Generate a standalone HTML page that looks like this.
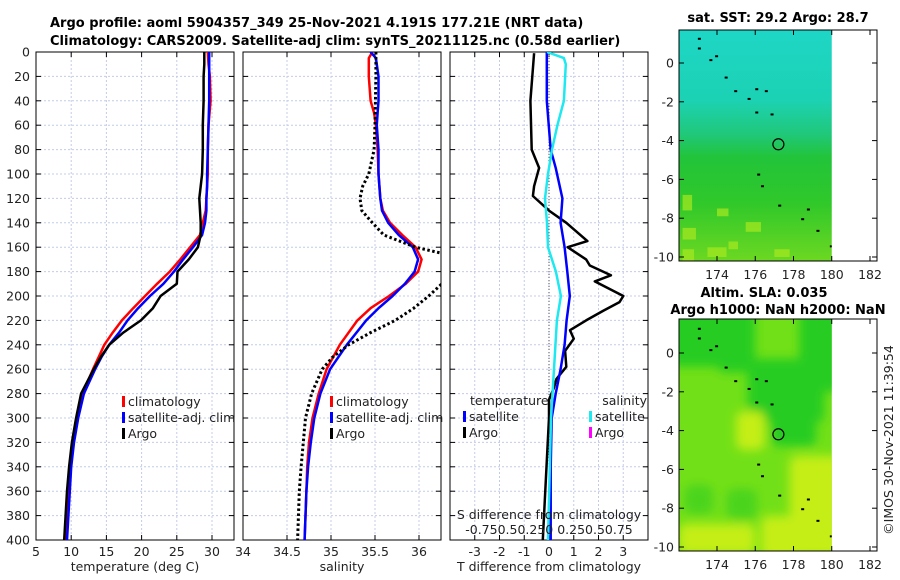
<!DOCTYPE html>
<html><head><meta charset="utf-8">
<style>
body{margin:0;background:#fff;width:900px;height:580px;overflow:hidden;font-family:"Liberation Sans","DejaVu Sans",sans-serif}
svg{display:block}
text{font-family:"DejaVu Sans","Liberation Sans",sans-serif;font-size:12.5px;fill:#222}
.b{font-weight:bold;fill:#000;font-size:13px}
</style></head><body>
<svg id="fig" width="900" height="580" viewBox="0 0 900 580">
<text class="b" x="50" y="27">Argo profile: aoml 5904357_349 25-Nov-2021 4.191S 177.21E (NRT data)</text>
<text class="b" x="50" y="45">Climatology: CARS2009. Satellite-adj clim: synTS_20211125.nc (0.58d earlier)</text>
<text class="b" x="778" y="22" text-anchor="middle">sat. SST: 29.2 Argo: 28.7</text>
<text class="b" x="764" y="297" text-anchor="middle">Altim. SLA: 0.035</text>
<text class="b" x="778" y="314" text-anchor="middle">Argo h1000: NaN h2000: NaN</text>
<text x="0" y="0" transform="translate(893,440) rotate(-90)" text-anchor="middle">©IMOS 30-Nov-2021 11:39:54</text>
<g id="plots"></g>
</svg>
<script>
// ---- data ----
const depths = [0,10,20,40,60,80,100,110,120,130,140,150,160,170,180,190,200,210,220,230,240,250,260,280,300,320,340,360,380,400];
const tempClim = [29.4,29.5,29.7,29.8,29.5,29.4,29.4,29.3,29.2,29.1,28.7,28.3,26.9,25.5,24.0,22.2,20.5,18.8,17.2,15.9,14.7,13.9,13.1,11.6,10.8,10.2,9.9,9.6,9.4,9.2];
const tempSat = [29.6,29.6,29.6,29.6,29.5,29.4,29.3,29.3,29.2,29.2,29.0,28.6,27.3,25.9,24.6,23.1,21.2,19.5,18.0,16.8,15.4,14.3,13.4,11.8,11.0,10.4,10.0,9.8,9.6,9.4];
const tempArgo = [28.9,28.9,28.8,28.8,28.7,28.7,28.6,28.4,28.2,28.3,28.4,28.4,28.0,26.7,25.1,25.0,22.7,21.6,19.9,17.4,15.4,14.2,13.2,11.4,10.7,10.1,9.7,9.4,9.2,9.0];
const salDepths = [0,5,20,40,50,60,80,100,120,130,140,150,160,170,180,190,200,210,220,240,260,280,300,320,340,360,400];
const salClim = [35.47,35.43,35.43,35.45,35.49,35.51,35.53,35.54,35.56,35.59,35.67,35.81,35.96,36.03,35.99,35.85,35.66,35.45,35.30,35.10,34.95,34.86,34.79,34.75,34.73,34.72,34.70];
const salSat = [35.45,35.51,35.54,35.54,35.53,35.52,35.54,35.54,35.56,35.58,35.65,35.77,35.93,35.99,35.95,35.84,35.70,35.54,35.40,35.18,34.99,34.88,34.81,34.77,34.74,34.72,34.70];
const argoSalDepths = [0,20,60,80,100,110,120,130,140,150,160,165,175,185,190,200,210,220,230,240,250,260,280,300,340,360,400];
const salArgo = [35.51,35.51,35.50,35.49,35.43,35.36,35.33,35.35,35.47,35.60,35.96,36.26,36.6,36.5,36.26,36.11,35.94,35.73,35.45,35.20,35.02,34.90,34.78,34.71,34.66,34.64,34.62];
const diffDepths = [1,40,80,95,110,118,130,140,155,160,170,175,183,188,200,205,212,220,228,235,245,258,268,275,285,300,340,400];
const tDiffArgo = [-0.6,-0.75,-0.7,-0.4,-0.6,-0.65,0.0,0.7,1.55,0.75,1.5,1.65,2.5,1.85,3.0,2.85,2.2,1.5,0.85,1.0,0.65,0.7,0.3,0.2,0.0,0.0,-0.1,-0.25];
const satDiffDepths = [0,40,80,95,120,140,160,180,200,220,240,260,280,300,340,400];
const tDiffSat = [-0.09,-0.09,0.07,0.27,0.54,0.47,0.63,0.74,0.84,0.71,0.63,0.47,0.27,0.11,0.07,0.07];
const sDiffDepths = [0,5,10,40,60,80,100,120,140,160,180,200,220,260,300,400];
const sDiffSat = [-0.02,0.15,0.17,0.15,0.085,0.03,-0.01,-0.04,-0.02,-0.01,0.07,0.12,0.08,0.05,0.02,-0.01];
const depthTicks = [0,20,40,60,80,100,120,140,160,180,200,220,240,260,280,300,320,340,360,380,400];
const tTicks = [5,10,15,20,25,30];
const sTicks = [34,34.5,35,35.5,36];
const dTicks = [-3,-2,-1,0,1,2,3];
const latTicks = [0,-2,-4,-6,-8,-10];
const lonTicks = [174,176,178,180,182];

// ---- helpers ----
const NS='http://www.w3.org/2000/svg';
const root=document.getElementById('plots');
function mk(tag,attrs,parent){const e=document.createElementNS(NS,tag);for(const k in attrs)e.setAttribute(k,attrs[k]);(parent||root).appendChild(e);return e;}
function lin(d0,d1,r0,r1){return v=>r0+(v-d0)*(r1-r0)/(d1-d0);}
const Y0=52,Y1=540;
const yD=lin(0,400,Y0,Y1);

function panel(name,x0,x1,xs,ticks,fmt){
  const g=mk('g',{});
  
  
  ticks.forEach(t=>{const x=xs(t);mk('line',{x1:x,x2:x,y1:Y0,y2:Y1,stroke:'#c4cbe8','stroke-width':1,'stroke-dasharray':'2,2'},g);});
  depthTicks.forEach(d=>{const y=yD(d);mk('line',{x1:x0,x2:x1,y1:y,y2:y,stroke:'#c4cbe8','stroke-width':1,'stroke-dasharray':'2,2'},g);
    mk('line',{x1:x0,x2:x0+5,y1:y,y2:y,stroke:'#000'},g);mk('line',{x1:x1-5,x2:x1,y1:y,y2:y,stroke:'#000'},g);});
  ticks.forEach(t=>{const x=xs(t);mk('line',{x1:x,x2:x,y1:Y1,y2:Y1-5,stroke:'#000'},g);mk('line',{x1:x,x2:x,y1:Y0,y2:Y0+5,stroke:'#000'},g);
    if(fmt){const tx=mk('text',{x:x,y:Y1+16,'text-anchor':'middle'},g);tx.textContent=fmt(t);}});
  mk('rect',{x:x0,y:Y0,width:x1-x0,height:Y1-Y0,fill:'none',stroke:'#000','stroke-width':1},g);
  return g;
}
function curve(name,g,xs,vals,ds,color,w,dash){
  const pts=vals.map((v,i)=>xs(v).toFixed(1)+','+yD(ds[i]).toFixed(1)).join(' ');
  const p=mk('polyline',{points:pts,fill:'none',stroke:color,'stroke-width':w,'stroke-linejoin':'round'},g);
  if(dash)p.setAttribute('stroke-dasharray',dash);
  
  
  return p;
}
function legend(g,x,y,items){
  items.forEach((it,i)=>{const yy=y+i*16;
    mk('rect',{x:x,y:yy-10,width:3,height:11,fill:it[1]},g);
    const t=mk('text',{x:x+6,y:yy},g);t.textContent=it[0];
    
    });
}

const defs=mk('defs',{});
[['c1',36,234],['c2',243,441],['c3',450,648]].forEach(c=>{const cp=mk('clipPath',{id:c[0]},defs);mk('rect',{x:c[1],y:Y0,width:c[2]-c[1],height:Y1-Y0},cp);});
const blur=mk('filter',{id:'blur',x:'-20%',y:'-20%',width:'140%',height:'140%'},defs);
mk('feGaussianBlur',{stdDeviation:5},blur);

depthTicks.forEach(d=>{const t=mk('text',{x:30,y:yD(d)+4.5,'text-anchor':'end'});t.textContent=d;
  
  });

// panel 1 temperature
const xT=lin(5,30,36,212);
const g1=panel('temperature-panel',36,234,xT,tTicks,v=>v);
const c1=mk('g',{'clip-path':'url(#c1)'},g1);
curve('temp-climatology-line',c1,xT,tempClim,depths,'#f00',2.5);
curve('temp-satellite-line',c1,xT,tempSat,depths,'#00f',2.5);
curve('temp-argo-line',c1,xT,tempArgo,depths,'#000',2.5);
legend(g1,122,406,[['climatology','#f00'],['satellite-adj. clim','#00f'],['Argo','#000']]);
const xl1=mk('text',{x:135,y:571,'text-anchor':'middle'});xl1.textContent='temperature (deg C)';



// panel 2 salinity
const xS=lin(34,36,243,419);
const g2=panel('salinity-panel',243,441,xS,sTicks,v=>v);
const c2=mk('g',{'clip-path':'url(#c2)'},g2);
curve('sal-climatology-line',c2,xS,salClim,salDepths,'#f00',2.5);
curve('sal-satellite-line',c2,xS,salSat,salDepths,'#00f',2.5);
curve('sal-argo-line',c2,xS,salArgo,argoSalDepths,'#000',3,'2.5,2.5');
legend(g2,330,406,[['climatology','#f00'],['satellite-adj. clim','#00f'],['Argo','#000']]);
const xl2=mk('text',{x:342,y:571,'text-anchor':'middle'});xl2.textContent='salinity';



// panel 3 differences
const xDT=lin(-4,4,450,648);
const xDS=lin(-1,1,450,648);
const g3=panel('difference-panel',450,648,xDT,dTicks,v=>v);
mk('line',{x1:xDT(0),x2:xDT(0),y1:Y0,y2:Y1,stroke:'#555','stroke-width':1,'stroke-dasharray':'1,2'},g3);
const c3=mk('g',{'clip-path':'url(#c3)'},g3);
curve('t-diff-argo-line',c3,xDT,tDiffArgo,diffDepths,'#000',2.5);
curve('t-diff-satellite-line',c3,xDT,tDiffSat,satDiffDepths,'#00f',2.5);
curve('s-diff-satellite-line',c3,xDS,sDiffSat,sDiffDepths,'#1ee8f0',2.5);
let t=mk('text',{x:470,y:405},g3);t.textContent='temperature';
t=mk('text',{x:647,y:405,'text-anchor':'end'},g3);t.textContent='salinity';
legend(g3,463,421,[['satellite','#00f'],['Argo','#000']]);
legend(g3,589,421,[['satellite','#1ee8f0'],['Argo','#f0f']]);
t=mk('text',{x:549,y:519,'text-anchor':'middle'},g3);t.textContent='S difference from climatology';

t=mk('text',{x:549,y:534,'text-anchor':'middle'},g3);t.textContent='-0.750.50.250 0.250.50.75';

const xl3=mk('text',{x:549,y:571,'text-anchor':'middle'});xl3.textContent='T difference from climatology';



// maps
function map(name,top,bot,lat0px,kind){
  const g=mk('g',{});
  
  
  const yL=lin(0,-10,lat0px,lat0px+194);
  const xL=lin(174,182,717,870);
  const cid='clip'+kind;
  const cp=mk('clipPath',{id:cid},defs);
  mk('rect',{x:679,y:top,width:xL(180)-679,height:bot-top},cp);
  const inner=mk('g',{'clip-path':'url(#'+cid+')'},g);
  if(kind==='sst'){
    const lg=mk('linearGradient',{id:'gsst',x1:0,y1:0,x2:0,y2:1},defs);
    [[0,'#1ed6c6'],[0.3,'#1cd2b4'],[0.45,'#20c87a'],[0.55,'#22c43a'],[0.75,'#30c82a'],[1,'#6cd822']].forEach(s=>mk('stop',{offset:s[0],'stop-color':s[1]},lg));
    mk('rect',{x:679,y:top,width:200,height:bot-top,fill:'url(#gsst)'},inner);
    [[172.2,-8.5,0.7,0.6],[173.5,-9.5,1,0.5],[175.5,-8.2,0.8,0.5],[172.2,-6.8,0.5,0.8],[174,-7.5,0.6,0.4],[177,-9.6,0.8,0.4],[172.2,-9.6,0.6,0.6],[174.6,-9.2,0.5,0.4]].forEach(b=>
      mk('rect',{x:xL(b[0]),y:yL(b[1]),width:b[2]*19.1,height:b[3]*19.4,fill:'#a8e820',opacity:0.7},inner));
  } else {
    mk('rect',{x:679,y:top,width:200,height:bot-top,fill:'#72e018'},inner);
    const bl=mk('g',{filter:'url(#blur)'},inner);
    [[171.5,2.5,4.5,3.2],[174,0.2,2,1.2],[175.6,-0.3,4,3.3],[176.8,-3.5,2.4,1.3],[178.3,2.5,2.2,4.5]].forEach(b=>
      mk('rect',{x:xL(b[0]),y:yL(b[1]),width:b[2]*19.1,height:b[3]*19.4,rx:8,fill:'#28cc22'},bl));
    [[172.3,-6.8,1.5,1.5],[174.5,-7,1.6,1.6]].forEach(b=>
      mk('rect',{x:xL(b[0]),y:yL(b[1]),width:b[2]*19.1,height:b[3]*19.4,rx:8,fill:'#4cd41c'},bl));
    [[177.8,-5.3,3,5.2],[176.3,-8.4,2.2,2.2],[172,-8.8,4,1.6],[175,-3,1.5,2]].forEach(b=>
      mk('rect',{x:xL(b[0]),y:yL(b[1]),width:b[2]*19.1,height:b[3]*19.4,rx:8,fill:'#c4ee12'},bl));
  }
  [[173,1.3],[173,0.8],[173.6,0.2],[173.9,0.4],[174.4,-0.7],[174.9,-1.4],[175.6,-1.8],[176,-1.3],[176.5,-1.4],[176.8,-2.6],[176,-2.5],[177.2,-7.3],[178.4,-8],[178.7,-7.5],[179.2,-8.6],[179.9,-9.4],[176.1,-5.7],[176.3,-6.3]].forEach(p=>
    mk('rect',{x:xL(p[0]),y:yL(p[1]),width:3,height:2,fill:'#000'},inner));
  mk('circle',{cx:xL(177.21),cy:yL(-4.19),r:5.5,fill:'none',stroke:'#000','stroke-width':1.2},g);
  mk('rect',{x:679,y:top,width:877-679,height:bot-top,fill:'none',stroke:'#000'},g);
  latTicks.forEach(v=>{const y=yL(v);mk('line',{x1:679,x2:684,y1:y,y2:y,stroke:'#000'},g);mk('line',{x1:872,x2:877,y1:y,y2:y,stroke:'#000'},g);
    const tx=mk('text',{x:674,y:y+4.5,'text-anchor':'end'},g);tx.textContent=v;});
  lonTicks.forEach(v=>{const x=xL(v);mk('line',{x1:x,x2:x,y1:bot,y2:bot-5,stroke:'#000'},g);mk('line',{x1:x,x2:x,y1:top,y2:top+5,stroke:'#000'},g);
    const tx=mk('text',{x:x,y:bot+18,'text-anchor':'middle'},g);tx.textContent=v;});
}
map('sst-map',30,261,63,'sst');
map('sla-map',319,551,353,'sla');
</script>
</body></html>
